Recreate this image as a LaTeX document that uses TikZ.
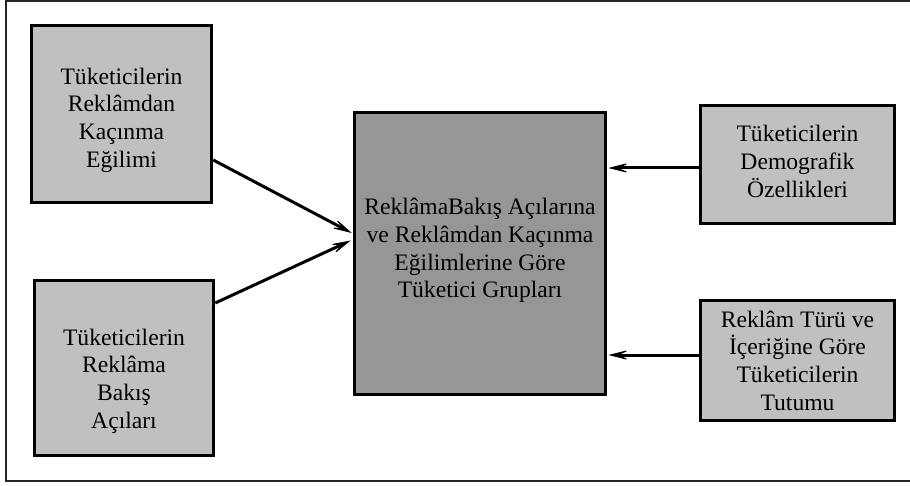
\documentclass[tikz,border=0pt]{standalone}
\usepackage{fontspec}
\setmainfont{Liberation Serif}
\usetikzlibrary{arrows.meta}
\definecolor{lightbox}{HTML}{C0C0C0}
\definecolor{darkbox}{HTML}{969696}
\begin{document}
\begin{tikzpicture}[x=1pt,y=-1pt,
  boxstyle/.style={draw=black, line width=3.5pt, rectangle, inner sep=0pt},
  textstyle/.style={inner sep=0pt, align=center, font=\fontsize{23.6pt}{27.7pt}\selectfont, text=black},
  arr/.style={line width=3pt, arrows={-Stealth[length=24pt, width=12pt, inset=14pt, line width=1pt]}}]
\useasboundingbox (0,0) rectangle (910,486);
\draw[line width=1.5pt, black!85] (6,1) rectangle (916,481);
\node[boxstyle, fill=lightbox, minimum width=180pt, minimum height=177pt] (b1) at (121.5,114) {};
\node[boxstyle, fill=lightbox, minimum width=179pt, minimum height=175pt] (b2) at (124,368) {};
\node[boxstyle, fill=darkbox, minimum width=251pt, minimum height=282pt] (c) at (480,253.5) {};
\node[boxstyle, fill=lightbox, minimum width=194pt, minimum height=118pt] (r1) at (797.5,164.5) {};
\node[boxstyle, fill=lightbox, minimum width=194pt, minimum height=120pt] (r2) at (797.5,360.5) {};
\node[textstyle] (b1t) at ([yshift=-6pt]b1.center) {Tüketicilerin\\Reklâmdan\\Kaçınma\\Eğilimi};
\node[textstyle] (b2t) at ([yshift=-13pt]b2.center) {Tüketicilerin\\Reklâma\\Bakış\\Açıları};
\node[textstyle] (ct) at ([yshift=3pt]c.center) {ReklâmaBakış Açılarına\\ve Reklâmdan Kaçınma\\Eğilimlerine Göre\\Tüketici Grupları};
\node[textstyle] (r1t) at ([yshift=3pt]r1.center) {Tüketicilerin\\Demografik\\Özellikleri};
\node[textstyle] (r2t) at (r2.center) {Reklâm Türü ve\\İçeriğine Göre\\Tüketicilerin\\Tutumu};
\coordinate (c1) at ([yshift=20.5pt,xshift=-1pt]c.west);
\coordinate (c2) at ([yshift=13pt,xshift=-2pt]c.west);
\draw[arr] ([yshift=-46pt]b1.east) -- (c1);
\draw[arr] ([yshift=65pt]b2.east) -- (c2);
\coordinate (d1) at ([yshift=-3.5pt]r1.west);
\coordinate (d2) at ([yshift=5.5pt]r2.west);
\draw[arr] (d1) -- ([xshift=1pt]d1 -| c.east);
\draw[arr] (d2) -- ([xshift=1pt]d2 -| c.east);
\end{tikzpicture}
\end{document}
